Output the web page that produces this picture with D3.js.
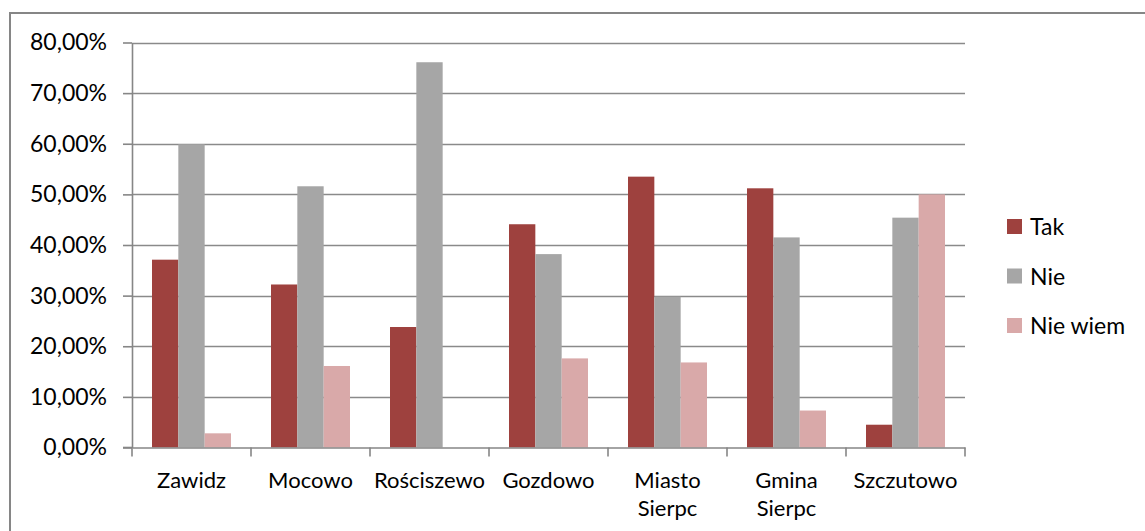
<!DOCTYPE html>
<html>
<head>
<meta charset="utf-8">
<script src="https://cdn.jsdelivr.net/npm/d3@7"></script>
<style>
  html, body { margin: 0; padding: 0; background: #fff; }
  svg { display: block; }
  text { font-family: Lato, "Open Sans", sans-serif; fill: #000; }
</style>
</head>
<body>
<svg id="chart" width="1145" height="531"></svg>
<script>
const categories = ["Zawidz", "Mocowo", "Rościszewo", "Gozdowo", "Miasto Sierpc", "Gmina Sierpc", "Szczutowo"];
const seriesNames = ["Tak", "Nie", "Nie wiem"];
const takValues    = [0.371, 0.322, 0.238, 0.441, 0.535, 0.512, 0.045];
const nieValues    = [0.599, 0.516, 0.761, 0.382, 0.298, 0.415, 0.454];
const nieWiemValues = [0.028, 0.161, 0.000, 0.176, 0.168, 0.073, 0.500];
const yTicks = [0, 0.1, 0.2, 0.3, 0.4, 0.5, 0.6, 0.7, 0.8];
const seriesColors = ["#9e413e", "#a6a6a6", "#d9a9a9"];

const seriesValues = [takValues, nieValues, nieWiemValues];
const svg = d3.select("#chart");
const W = 1145, H = 531;
const plot = { left: 132, right: 965, top: 42.5, bottom: 447.5 };

const locale = d3.formatLocale({ decimal: ",", thousands: " ", grouping: [3], currency: ["", " zł"] });
const pct = locale.format(".2%");

const x = d3.scaleBand().domain(categories).range([plot.left, plot.right]).padding(0);
const xs = d3.scaleBand().domain(seriesNames).range([0, x.bandwidth()]).paddingInner(0).paddingOuter(0.76);
const y = d3.scaleLinear().domain([0, 0.8]).range([plot.bottom, plot.top]);
const color = d3.scaleOrdinal().domain(seriesNames).range(seriesColors);

// outer frame (top & left visible)
svg.append("path")
  .attr("d", `M10,${H + 5} L10,13 L${W + 5},13`)
  .attr("fill", "none").attr("stroke", "#868686").attr("stroke-width", 2);

// gridlines
svg.append("g").selectAll("line").data(yTicks.filter(d => d > 0)).join("line")
  .attr("x1", plot.left).attr("x2", plot.right)
  .attr("y1", d => Math.round(y(d)) + 0.5).attr("y2", d => Math.round(y(d)) + 0.5)
  .attr("stroke", "#8a8a8a").attr("stroke-width", 1.6);

// bars
const groups = svg.append("g").selectAll("g").data(categories).join("g")
  .attr("transform", d => `translate(${x(d)},0)`);
groups.selectAll("rect")
  .data((c, i) => seriesNames.map((s, j) => ({ s, v: seriesValues[j][i] })))
  .join("rect")
  .attr("x", d => xs(d.s))
  .attr("width", xs.bandwidth())
  .attr("y", d => y(d.v))
  .attr("height", d => y(0) - y(d.v))
  .attr("fill", d => color(d.s));

// y axis
const yAxis = svg.append("g").attr("transform", `translate(${plot.left},0)`)
  .call(d3.axisLeft(y).tickValues(yTicks).tickFormat(pct).tickSize(9).tickSizeOuter(0).tickPadding(16));
yAxis.select(".domain").attr("stroke", "#868686").attr("stroke-width", 1.6);
yAxis.selectAll(".tick line").attr("stroke", "#868686").attr("stroke-width", 1.6);
yAxis.selectAll(".tick text").attr("font-size", 23).attr("font-family", "Lato, sans-serif").attr("fill", "#000");

// x axis
const xAxis = svg.append("g").attr("transform", `translate(0,${plot.bottom})`)
  .call(d3.axisBottom(x).tickSize(0).tickSizeOuter(0).tickFormat(""));
xAxis.select(".domain").attr("stroke", "#868686").attr("stroke-width", 1.6);
xAxis.selectAll(".tick").remove();
const bounds = categories.map(c => x(c)).concat([plot.right]);
xAxis.selectAll("line.bt").data(bounds).join("line").attr("class", "bt")
  .attr("x1", d => d).attr("x2", d => d).attr("y1", 0).attr("y2", 9)
  .attr("stroke", "#868686").attr("stroke-width", 1.6);
svg.append("line").attr("x1", plot.left - 9).attr("x2", plot.left).attr("y1", plot.bottom).attr("y2", plot.bottom)
  .attr("stroke", "#868686").attr("stroke-width", 1.6);

const xl = svg.append("g").selectAll("text").data(categories).join("text")
  .attr("x", d => x(d) + x.bandwidth() / 2)
  .attr("y", 488)
  .attr("text-anchor", "middle")
  .attr("font-size", 22);
xl.each(function(d) {
  const words = d.split(" ");
  d3.select(this).selectAll("tspan").data(words).join("tspan")
    .attr("x", x(d) + x.bandwidth() / 2)
    .attr("dy", (w, i) => i === 0 ? 0 : 28)
    .text(w => w);
});

// legend
const lg = svg.append("g").selectAll("g").data(seriesNames).join("g")
  .attr("transform", (d, i) => `translate(1007,${219 + i * 49.5})`);
lg.append("rect").attr("width", 15).attr("height", 15).attr("fill", d => color(d));
lg.append("text").attr("x", 23).attr("y", 16).attr("font-size", 23).text(d => d);
</script>
</body>
</html>
